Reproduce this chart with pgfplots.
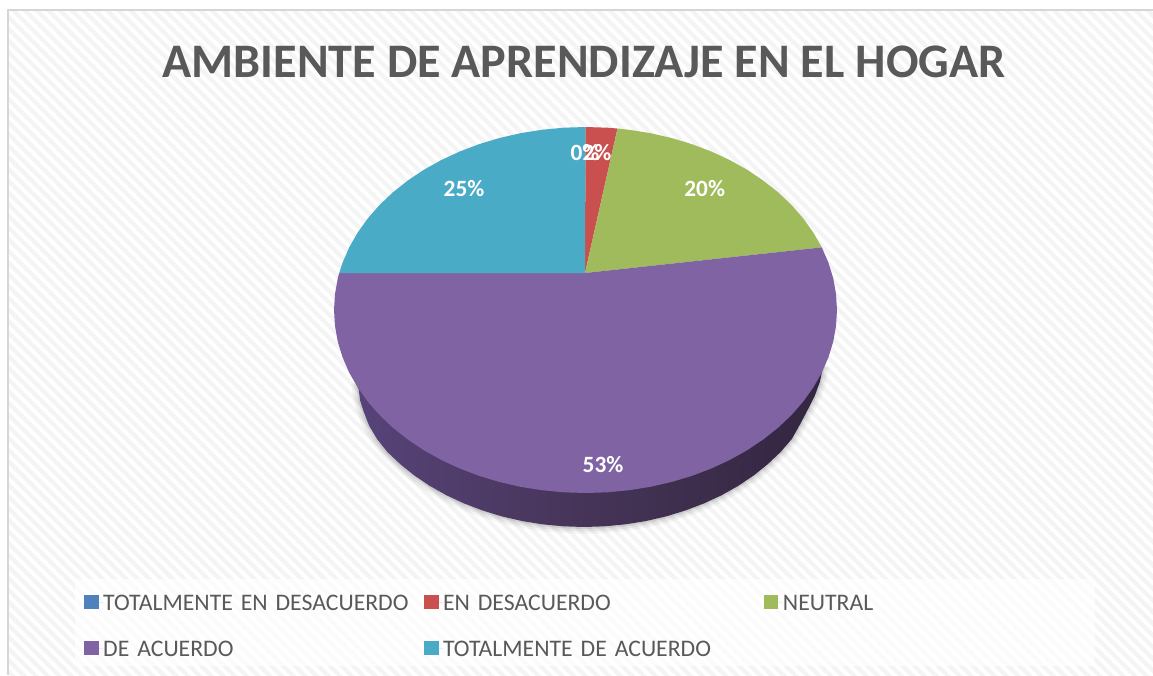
\documentclass[border=0pt]{standalone}
\usepackage{pgfplots}
\pgfplotsset{compat=1.18}
\usepackage{pgfplotstable}
\usepackage{fontspec}
\setmainfont{Carlito}
\usetikzlibrary{patterns.meta}
\definecolor{cblue}{HTML}{4F81BD}
\definecolor{cred}{HTML}{C9504E}
\definecolor{cgreen}{HTML}{9FBB5B}
\definecolor{cpurple}{HTML}{8063A3}
\definecolor{cteal}{HTML}{4AABC6}
\definecolor{ctext}{HTML}{595959}
\definecolor{sideL}{HTML}{574379}
\definecolor{sideM}{HTML}{453457}
\definecolor{sideR}{HTML}{332640}
\pgfplotstableread{
x y
358 383
360 400
363.5 411.2
369 425.4
377 439
387.4 452
400.2 464.1
414.3 475.5
429.7 485.8
446.3 495.2
464 503.4
482.6 510.5
501.9 516.4
521.9 521
542.3 524.3
563.1 526.3
584 527
604.9 526.3
625.7 524.3
646.1 521
666.1 516.4
685.4 510.5
704 503.4
721.7 495.2
738.3 485.8
753.7 475.5
767.8 464.1
780.6 452
791.8 439
799.5 425.4
807 411.2
814.5 396.5
820 381.6
823 366.3
}\lowerarc
\begin{document}
\begin{tikzpicture}
\begin{axis}[
  scale only axis, width=864.75pt, height=506.25pt,
  xmin=0, xmax=1153, ymin=0, ymax=675, y dir=reverse,
  hide axis,
  legend columns=3,
  legend cell align=left,
  legend image code/.code={\path[#1,draw=none] (0pt,-5.4pt) rectangle (11pt,5.4pt);\path (0pt,0pt) -- (14.4pt,0pt);},
  legend style={at={(axis cs:84,594)},anchor=north west,draw=none,fill=none,inner sep=0pt,outer sep=0pt,
    font=\fontsize{17.8pt}{20pt}\selectfont,text=ctext,
    nodes={text width=240.5pt,inner sep=0pt,outer sep=0pt,text height=12pt,text depth=0pt,align=left},
    /tikz/column sep=0pt,/tikz/row sep=22.5pt},
]
% background
\addplot[forget plot,draw=none,fill=white] coordinates {(0,0)(1153,0)(1153,675)(0,675)} --cycle;
\addplot[forget plot,draw=none,pattern={Lines[angle=-45,distance=6.2pt,line width=3.1pt]},pattern color=black!4.5] coordinates {(8,10)(1153,10)(1153,675)(8,675)} --cycle;
\addplot[forget plot,color=black!16,line width=1.5pt] coordinates {(8,675)(8,10)(1153,10)};
\addplot[forget plot,draw=none,fill=white,fill opacity=.7] coordinates {(75,579)(1095,579)(1095,666)(75,666)} --cycle;
% shadow and side of the pie
\addplot[forget plot,draw=black,opacity=.04,line width=10pt,line join=round] table {\lowerarc};
\addplot[forget plot,draw=black,opacity=.06,line width=6.5pt,line join=round] table {\lowerarc};
\addplot[forget plot,draw=black,opacity=.09,line width=3pt,line join=round] table {\lowerarc};
\addplot[forget plot,draw=none,left color=sideL,right color=sideR,middle color=sideM] table {\lowerarc} --cycle;
% TOTALMENTE EN DESACUERDO: 0 %
\addplot[fill=cblue,draw=none] coordinates {(585,273)(585.5,127)} --cycle;
\addlegendentry{TOTALMENTE EN DESACUERDO}
% EN DESACUERDO: 2 %
\addplot[fill=cred,draw=none] coordinates {(585,273)(585.5,127)(607.4,127.7)(617.5,128.5)} --cycle;
\addlegendentry{EN DESACUERDO}
% NEUTRAL: 20 %
\addplot[fill=cgreen,draw=none] coordinates {(585,273)(617.5,128.5)(629.2,129.8)(650.6,133.2)(671.5,138.0)(691.8,144.1)(711.3,151.5)(729.8,160.1)(747.2,169.8)(763.3,180.6)(778.2,192.4)(791.5,205.0)(803.3,218.5)(813.4,232.7)(821.8,247.4)} --cycle;
\addlegendentry{NEUTRAL}
% DE ACUERDO: 53 %
\addplot[fill=cpurple,draw=none] coordinates {(585,273)(821.8,247.4)(828.4,262.6)(833.2,278.2)(836.0,294.0)(837,310)(836.0,326.0)(833.2,341.8)(828.4,357.4)(821.8,372.6)(813.4,387.3)(803.3,401.5)(791.5,415.0)(778.2,427.6)(763.3,439.4)(747.2,450.2)(729.8,459.9)(711.3,468.5)(691.8,475.9)(671.5,482.0)(650.6,486.8)(629.2,490.2)(607.4,492.3)(585.5,493)(563.6,492.3)(541.8,490.2)(520.4,486.8)(499.5,482.0)(479.2,475.9)(459.7,468.5)(441.2,459.9)(423.8,450.2)(407.7,439.4)(392.8,427.6)(379.5,415.0)(367.7,401.5)(357.6,387.3)(349.2,372.6)(342.6,357.4)(337.8,341.8)(335.0,326.0)(334,310)(335.0,294.0)(337.8,278.2)(339.2,273)} --cycle;
\addlegendentry{DE ACUERDO}
% TOTALMENTE DE ACUERDO: 25 %
\addplot[fill=cteal,draw=none] coordinates {(585,273)(339.2,273)(342.6,262.6)(349.2,247.4)(357.6,232.7)(367.7,218.5)(379.5,205.0)(392.8,192.4)(407.7,180.6)(423.8,169.8)(441.2,160.1)(459.7,151.5)(479.2,144.1)(499.5,138.0)(520.4,133.2)(541.8,129.8)(563.6,127.7)(585.5,127)} --cycle;
\addlegendentry{TOTALMENTE DE ACUERDO}
% texts
\node[font=\bfseries\fontsize{36.1pt}{40pt}\selectfont,text=ctext,anchor=center] at (axis cs:584,62) {AMBIENTE DE APRENDIZAJE EN EL HOGAR};
\tikzset{lab/.style={font=\bfseries\fontsize{17.5pt}{20pt}\selectfont,text=white,anchor=center,inner sep=0pt}}
\node[lab] at (axis cs:585,152.5) {0\%};
\node[lab] at (axis cs:597,152.5) {2\%};
\node[lab] at (axis cs:704.7,189) {20\%};
\node[lab] at (axis cs:464,189) {25\%};
\node[lab] at (axis cs:603,465) {53\%};
\end{axis}
\end{tikzpicture}
\end{document}
